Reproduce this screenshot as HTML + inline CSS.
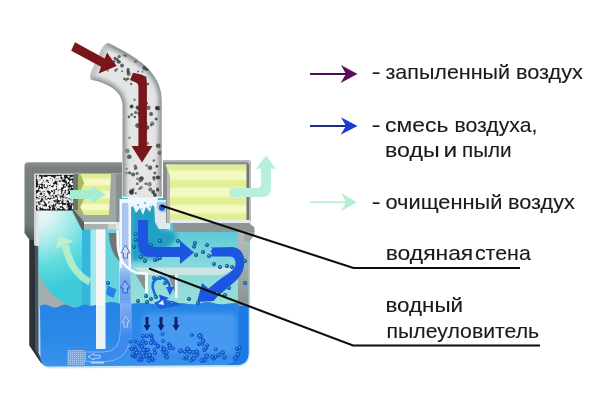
<!DOCTYPE html>
<html><head><meta charset="utf-8">
<style>
html,body{margin:0;padding:0;background:#fff;}
body{width:600px;height:400px;overflow:hidden;position:relative;font-family:"Liberation Sans",sans-serif;}
svg{position:absolute;left:0;top:0;display:block}
text{font-family:"Liberation Sans",sans-serif;font-size:20px;fill:#1a1a1a}
</style></head><body>
<svg width="600" height="400" viewBox="0 0 600 400">
<defs>
<linearGradient id="pipeV" x1="0" x2="1" y1="0" y2="0">
 <stop offset="0" stop-color="#a9aeae"/><stop offset="0.18" stop-color="#d2d5d5"/><stop offset="0.5" stop-color="#e9ebeb"/><stop offset="0.82" stop-color="#d2d5d5"/><stop offset="1" stop-color="#a4a9a9"/>
</linearGradient>
<radialGradient id="chamL" gradientUnits="userSpaceOnUse" cx="36" cy="208" r="82">
 <stop offset="0" stop-color="#eef8f8"/><stop offset="0.220" stop-color="#dcf4f2"/><stop offset="0.420" stop-color="#aaecea"/><stop offset="0.700" stop-color="#60dcde"/><stop offset="1" stop-color="#3ccbdc"/>
</radialGradient>
<linearGradient id="tubeG" x1="0" x2="0" y1="0" y2="1"><stop offset="0" stop-color="#86aef2"/><stop offset="1" stop-color="#3c8aec"/></linearGradient>
<linearGradient id="wallG" x1="0" x2="0" y1="0" y2="1"><stop offset="0" stop-color="#b4bcbc"/><stop offset="0.500" stop-color="#a2aaaa"/><stop offset="1" stop-color="#8a9292"/></linearGradient>
<linearGradient id="tubeG2" x1="0" x2="0" y1="0" y2="1"><stop offset="0" stop-color="#a4c2f2"/><stop offset="0.300" stop-color="#7ca8f0"/><stop offset="1" stop-color="#6a9cf0"/></linearGradient>
<linearGradient id="frameG" x1="0" x2="0" y1="0" y2="1">
 <stop offset="0" stop-color="#8c9292"/><stop offset="0.080" stop-color="#7a8080"/><stop offset="0.800" stop-color="#727a7c"/><stop offset="1" stop-color="#4a5258"/>
</linearGradient>
<linearGradient id="chamC" x1="0" x2="0" y1="0" y2="1">
 <stop offset="0" stop-color="#3cbcd2"/><stop offset="0.300" stop-color="#5ccad8"/><stop offset="0.600" stop-color="#86d8dc"/><stop offset="1" stop-color="#9adfd8"/>
</linearGradient>
<linearGradient id="water" x1="0" x2="0" y1="0" y2="1">
 <stop offset="0" stop-color="#2583e6"/><stop offset="0.6" stop-color="#2d8ae8"/><stop offset="1" stop-color="#3a92ec"/>
</linearGradient>
<linearGradient id="yel" x1="0" x2="0" y1="0" y2="1">
<stop offset="0" stop-color="#e0ee94"/><stop offset="0.08" stop-color="#e0ee94"/><stop offset="0.13" stop-color="#f4f9c2"/><stop offset="0.25" stop-color="#f4f9c2"/><stop offset="0.31" stop-color="#e0ee94"/><stop offset="0.39" stop-color="#e0ee94"/><stop offset="0.44" stop-color="#f4f9c2"/><stop offset="0.56" stop-color="#f4f9c2"/><stop offset="0.62" stop-color="#e0ee94"/><stop offset="0.7" stop-color="#e0ee94"/><stop offset="0.75" stop-color="#f4f9c2"/><stop offset="0.86" stop-color="#f4f9c2"/><stop offset="0.91" stop-color="#e0ee94"/><stop offset="1" stop-color="#e0ee94"/>
</linearGradient>
<filter id="soft2" x="-10%" y="-10%" width="120%" height="120%"><feGaussianBlur stdDeviation="2"/></filter>
<filter id="soft3" x="-5%" y="-20%" width="110%" height="140%"><feGaussianBlur stdDeviation="0.35"/></filter>
<filter id="soft4" x="-5%" y="-5%" width="110%" height="110%"><feGaussianBlur stdDeviation="0.5"/></filter>
<pattern id="grid" width="2" height="2" patternUnits="userSpaceOnUse"><rect width="1" height="1" fill="#a8ccf6"/></pattern>
<filter id="soft" x="-5%" y="-5%" width="110%" height="110%"><feGaussianBlur stdDeviation="0.45"/></filter>
</defs>
<rect width="600" height="400" fill="#ffffff"/>
<g filter="url(#soft)">

<!-- lower container outer -->
<path d="M38,240 L38,352 Q40,368 50,368.500 L237,367 Q250,366 250,353 L250,231 L38,231 Z" fill="#cfe6f6"/>
<path d="M29.500,240 L40.500,240 L40.500,354 L44,362 L42,364.500 L29.500,346 Z" fill="#b4d6f2"/>
<path d="M29.500,240 L38.500,240 L38.500,353 L42.500,361.500 L41.500,363.500 L29.500,345.500 Z" fill="#4a545c"/>
<path d="M29.500,240 L35,240 L35,349 L41,361 L41.500,363.500 L29.500,345.500 Z" fill="#2a3138"/>

<!-- upper housing left -->
<path d="M24.500,166 Q24.500,162.300 28.500,162.300 L122,162.300 L122,240 L29.500,240 L24.500,233 Z" fill="url(#frameG)"/>
<rect x="34" y="173.500" width="88" height="72" fill="#cdd3d3"/>
<!-- left chamber bg -->
<rect x="38.500" y="210" width="58" height="98" fill="url(#chamL)"/>
<rect x="82" y="224" width="9" height="84" fill="#34b6dc" filter="url(#soft4)"/>
<rect x="90.500" y="229" width="6" height="79" fill="#a6e6ee"/>
<rect x="36" y="210" width="3" height="36" fill="#dfe5e5"/>
<!-- grey arc bottom-left in chamber -->
<path d="M38.500,274 L40.500,276 A50,50 0 0 0 74,306.500 L74,308 L38.500,308 Z" fill="#a4aeae"/>
<!-- speckle filter -->
<rect x="36" y="175" width="38" height="35.500" fill="#1b1b1b"/>
<circle cx="45.8" cy="190.8" r="1.2" fill="#ffffff" /><circle cx="56.7" cy="205.3" r="1.0" fill="#f0f0f0" /><circle cx="72.4" cy="187.3" r="0.8" fill="#ffffff" /><circle cx="72.6" cy="208.4" r="0.8" fill="#ffffff" /><circle cx="39.5" cy="200.4" r="1.0" fill="#ffffff" /><circle cx="42.9" cy="178.8" r="1.2" fill="#d8d8d8" /><circle cx="58.6" cy="198.9" r="0.6" fill="#ffffff" /><circle cx="43.7" cy="184.9" r="0.6" fill="#d8d8d8" /><circle cx="50.1" cy="186.9" r="1.0" fill="#f0f0f0" /><circle cx="38.2" cy="205.1" r="0.8" fill="#d8d8d8" /><circle cx="43.6" cy="187.1" r="0.6" fill="#ffffff" /><circle cx="47.0" cy="197.6" r="0.8" fill="#ffffff" /><circle cx="40.3" cy="203.0" r="0.8" fill="#ffffff" /><circle cx="58.1" cy="189.0" r="1.0" fill="#d8d8d8" /><circle cx="59.7" cy="178.8" r="0.8" fill="#ffffff" /><circle cx="64.5" cy="199.8" r="1.2" fill="#f0f0f0" /><circle cx="47.2" cy="196.4" r="0.8" fill="#ffffff" /><circle cx="66.7" cy="199.6" r="1.2" fill="#f0f0f0" /><circle cx="69.8" cy="200.8" r="0.6" fill="#f0f0f0" /><circle cx="40.1" cy="177.4" r="1.0" fill="#ffffff" /><circle cx="50.6" cy="190.9" r="0.6" fill="#ffffff" /><circle cx="59.5" cy="198.5" r="1.2" fill="#d8d8d8" /><circle cx="37.1" cy="202.3" r="0.6" fill="#ffffff" /><circle cx="63.8" cy="191.6" r="0.6" fill="#d8d8d8" /><circle cx="45.5" cy="201.0" r="0.8" fill="#ffffff" /><circle cx="54.8" cy="188.6" r="1.2" fill="#d8d8d8" /><circle cx="64.6" cy="196.4" r="0.8" fill="#ffffff" /><circle cx="58.6" cy="186.9" r="1.0" fill="#f0f0f0" /><circle cx="37.4" cy="178.0" r="1.0" fill="#ffffff" /><circle cx="61.9" cy="198.3" r="1.0" fill="#d8d8d8" /><circle cx="53.7" cy="191.4" r="0.6" fill="#f0f0f0" /><circle cx="48.2" cy="178.8" r="1.2" fill="#ffffff" /><circle cx="47.4" cy="178.5" r="1.2" fill="#d8d8d8" /><circle cx="50.9" cy="206.2" r="0.8" fill="#ffffff" /><circle cx="57.9" cy="180.7" r="1.0" fill="#d8d8d8" /><circle cx="41.8" cy="203.1" r="1.0" fill="#ffffff" /><circle cx="62.3" cy="183.6" r="1.2" fill="#ffffff" /><circle cx="37.9" cy="176.1" r="1.2" fill="#ffffff" /><circle cx="51.6" cy="200.0" r="1.2" fill="#d8d8d8" /><circle cx="50.5" cy="180.0" r="1.0" fill="#ffffff" /><circle cx="48.7" cy="187.2" r="1.2" fill="#ffffff" /><circle cx="70.8" cy="182.5" r="0.6" fill="#d8d8d8" /><circle cx="46.1" cy="178.1" r="1.2" fill="#ffffff" /><circle cx="50.0" cy="190.1" r="1.0" fill="#ffffff" /><circle cx="47.1" cy="177.7" r="1.0" fill="#f0f0f0" /><circle cx="46.0" cy="184.8" r="1.0" fill="#f0f0f0" /><circle cx="64.8" cy="201.9" r="1.2" fill="#ffffff" /><circle cx="66.2" cy="196.8" r="0.8" fill="#ffffff" /><circle cx="38.8" cy="200.2" r="1.2" fill="#f0f0f0" /><circle cx="60.2" cy="185.4" r="0.6" fill="#f0f0f0" /><circle cx="43.1" cy="189.7" r="1.0" fill="#d8d8d8" /><circle cx="46.2" cy="200.4" r="1.0" fill="#ffffff" /><circle cx="60.6" cy="185.9" r="1.2" fill="#ffffff" /><circle cx="43.0" cy="181.3" r="0.8" fill="#ffffff" /><circle cx="56.8" cy="190.9" r="1.0" fill="#ffffff" /><circle cx="52.4" cy="194.1" r="0.8" fill="#ffffff" /><circle cx="43.3" cy="194.3" r="1.0" fill="#f0f0f0" /><circle cx="50.3" cy="202.7" r="0.8" fill="#ffffff" /><circle cx="64.0" cy="189.6" r="1.2" fill="#f0f0f0" /><circle cx="50.6" cy="187.2" r="0.6" fill="#ffffff" /><circle cx="47.0" cy="207.9" r="0.8" fill="#f0f0f0" /><circle cx="40.3" cy="205.6" r="1.2" fill="#ffffff" /><circle cx="60.2" cy="190.3" r="1.0" fill="#ffffff" /><circle cx="41.6" cy="190.0" r="1.2" fill="#ffffff" /><circle cx="37.0" cy="188.9" r="1.2" fill="#ffffff" /><circle cx="45.9" cy="179.6" r="0.8" fill="#f0f0f0" /><circle cx="55.8" cy="198.5" r="1.2" fill="#ffffff" /><circle cx="56.9" cy="177.3" r="0.8" fill="#f0f0f0" /><circle cx="57.5" cy="177.2" r="1.0" fill="#f0f0f0" /><circle cx="59.6" cy="193.4" r="1.2" fill="#ffffff" /><circle cx="40.6" cy="185.9" r="0.8" fill="#ffffff" /><circle cx="46.4" cy="202.1" r="0.6" fill="#ffffff" /><circle cx="56.3" cy="208.9" r="1.0" fill="#d8d8d8" /><circle cx="60.2" cy="205.2" r="1.2" fill="#f0f0f0" /><circle cx="56.7" cy="177.0" r="1.2" fill="#d8d8d8" /><circle cx="39.0" cy="182.4" r="1.2" fill="#ffffff" /><circle cx="46.3" cy="198.0" r="1.0" fill="#f0f0f0" /><circle cx="54.7" cy="199.0" r="1.2" fill="#d8d8d8" /><circle cx="61.6" cy="182.5" r="1.0" fill="#ffffff" /><circle cx="44.4" cy="208.0" r="1.0" fill="#f0f0f0" /><circle cx="45.3" cy="183.3" r="1.0" fill="#ffffff" /><circle cx="71.3" cy="192.4" r="0.8" fill="#f0f0f0" /><circle cx="54.5" cy="206.0" r="0.6" fill="#f0f0f0" /><circle cx="70.2" cy="177.8" r="0.6" fill="#f0f0f0" /><circle cx="52.0" cy="199.4" r="0.8" fill="#ffffff" /><circle cx="53.2" cy="199.5" r="1.0" fill="#ffffff" /><circle cx="72.9" cy="206.7" r="1.0" fill="#f0f0f0" /><circle cx="43.7" cy="206.9" r="1.2" fill="#ffffff" /><circle cx="48.2" cy="199.9" r="1.0" fill="#d8d8d8" /><circle cx="52.9" cy="179.6" r="0.6" fill="#d8d8d8" /><circle cx="39.9" cy="189.9" r="0.6" fill="#f0f0f0" /><circle cx="50.7" cy="201.4" r="1.0" fill="#ffffff" /><circle cx="40.2" cy="199.3" r="0.8" fill="#d8d8d8" /><circle cx="56.5" cy="190.7" r="1.0" fill="#d8d8d8" /><circle cx="63.5" cy="191.7" r="1.2" fill="#f0f0f0" /><circle cx="66.2" cy="201.3" r="0.6" fill="#ffffff" /><circle cx="38.3" cy="178.1" r="0.6" fill="#d8d8d8" /><circle cx="44.0" cy="178.1" r="1.0" fill="#d8d8d8" /><circle cx="46.8" cy="207.6" r="0.6" fill="#d8d8d8" /><circle cx="63.9" cy="198.8" r="1.0" fill="#d8d8d8" /><circle cx="37.1" cy="200.9" r="0.6" fill="#ffffff" /><circle cx="66.7" cy="179.5" r="1.2" fill="#ffffff" /><circle cx="65.4" cy="206.1" r="1.2" fill="#f0f0f0" /><circle cx="70.4" cy="182.0" r="1.0" fill="#f0f0f0" /><circle cx="58.9" cy="186.8" r="1.0" fill="#ffffff" /><circle cx="50.0" cy="201.8" r="0.6" fill="#f0f0f0" /><circle cx="51.1" cy="181.3" r="1.2" fill="#ffffff" /><circle cx="60.4" cy="191.9" r="1.0" fill="#f0f0f0" /><circle cx="72.3" cy="205.2" r="0.6" fill="#d8d8d8" /><circle cx="59.5" cy="182.9" r="1.2" fill="#ffffff" /><circle cx="72.6" cy="208.1" r="0.8" fill="#f0f0f0" /><circle cx="41.8" cy="191.2" r="0.8" fill="#ffffff" /><circle cx="65.1" cy="185.7" r="1.0" fill="#d8d8d8" /><circle cx="50.4" cy="200.4" r="0.8" fill="#ffffff" /><circle cx="45.9" cy="184.1" r="0.8" fill="#d8d8d8" /><circle cx="68.8" cy="195.1" r="1.0" fill="#ffffff" /><circle cx="51.3" cy="208.8" r="0.8" fill="#ffffff" /><circle cx="60.5" cy="208.7" r="0.6" fill="#ffffff" /><circle cx="54.1" cy="203.0" r="1.2" fill="#d8d8d8" /><circle cx="38.5" cy="185.7" r="0.6" fill="#ffffff" /><circle cx="43.8" cy="208.1" r="0.8" fill="#ffffff" /><circle cx="50.4" cy="204.6" r="1.2" fill="#d8d8d8" /><circle cx="64.9" cy="197.9" r="0.6" fill="#ffffff" /><circle cx="59.9" cy="199.4" r="1.0" fill="#f0f0f0" /><circle cx="38.3" cy="187.2" r="0.6" fill="#f0f0f0" /><circle cx="73.0" cy="177.3" r="0.8" fill="#ffffff" /><circle cx="66.5" cy="189.5" r="1.0" fill="#f0f0f0" /><circle cx="59.4" cy="178.6" r="0.6" fill="#ffffff" /><circle cx="56.7" cy="178.1" r="0.6" fill="#ffffff" /><circle cx="60.9" cy="181.1" r="0.6" fill="#f0f0f0" /><circle cx="51.3" cy="184.9" r="1.0" fill="#d8d8d8" /><circle cx="52.0" cy="177.7" r="1.0" fill="#ffffff" /><circle cx="52.0" cy="204.5" r="1.0" fill="#f0f0f0" /><circle cx="51.1" cy="189.4" r="0.6" fill="#ffffff" /><circle cx="69.5" cy="190.0" r="0.6" fill="#ffffff" /><circle cx="57.8" cy="188.0" r="0.8" fill="#f0f0f0" /><circle cx="37.5" cy="194.2" r="1.2" fill="#ffffff" /><circle cx="57.6" cy="206.6" r="0.8" fill="#f0f0f0" /><circle cx="49.5" cy="181.3" r="0.8" fill="#ffffff" /><circle cx="40.9" cy="192.2" r="0.8" fill="#d8d8d8" /><circle cx="41.6" cy="207.1" r="1.2" fill="#d8d8d8" /><circle cx="38.9" cy="206.6" r="1.2" fill="#ffffff" /><circle cx="69.6" cy="196.5" r="0.8" fill="#f0f0f0" /><circle cx="59.4" cy="196.3" r="0.8" fill="#ffffff" /><circle cx="43.6" cy="183.2" r="1.2" fill="#f0f0f0" /><circle cx="50.8" cy="180.1" r="0.8" fill="#f0f0f0" /><circle cx="38.5" cy="194.6" r="0.6" fill="#d8d8d8" /><circle cx="41.2" cy="195.8" r="1.0" fill="#ffffff" /><circle cx="48.1" cy="184.2" r="1.2" fill="#d8d8d8" /><circle cx="53.1" cy="190.5" r="0.6" fill="#ffffff" /><circle cx="59.3" cy="192.2" r="0.8" fill="#ffffff" /><circle cx="64.5" cy="201.7" r="1.2" fill="#f0f0f0" /><circle cx="66.2" cy="189.2" r="0.6" fill="#f0f0f0" /><circle cx="49.9" cy="188.1" r="1.2" fill="#ffffff" /><circle cx="38.5" cy="180.3" r="1.0" fill="#ffffff" /><circle cx="39.0" cy="192.6" r="1.2" fill="#f0f0f0" /><circle cx="37.9" cy="178.2" r="0.6" fill="#f0f0f0" /><circle cx="41.7" cy="205.2" r="1.0" fill="#f0f0f0" /><circle cx="61.7" cy="199.8" r="0.8" fill="#ffffff" /><circle cx="67.0" cy="196.1" r="1.0" fill="#f0f0f0" /><circle cx="48.7" cy="196.2" r="1.2" fill="#f0f0f0" /><circle cx="46.1" cy="207.8" r="1.2" fill="#f0f0f0" /><circle cx="58.3" cy="196.3" r="0.8" fill="#d8d8d8" /><circle cx="50.4" cy="182.6" r="1.2" fill="#f0f0f0" /><circle cx="59.9" cy="185.2" r="1.0" fill="#ffffff" /><circle cx="43.1" cy="201.9" r="0.6" fill="#ffffff" /><circle cx="59.9" cy="187.9" r="1.2" fill="#ffffff" /><circle cx="46.1" cy="193.7" r="1.2" fill="#d8d8d8" /><circle cx="46.5" cy="208.7" r="0.8" fill="#d8d8d8" /><circle cx="48.9" cy="178.7" r="0.8" fill="#f0f0f0" /><circle cx="59.2" cy="207.6" r="1.0" fill="#d8d8d8" /><circle cx="48.2" cy="207.9" r="1.0" fill="#ffffff" /><circle cx="63.9" cy="183.3" r="1.0" fill="#ffffff" /><circle cx="52.0" cy="188.0" r="0.6" fill="#f0f0f0" /><circle cx="54.6" cy="196.2" r="0.6" fill="#ffffff" /><circle cx="39.0" cy="194.7" r="1.0" fill="#ffffff" /><circle cx="55.8" cy="193.6" r="1.2" fill="#d8d8d8" /><circle cx="58.2" cy="182.7" r="1.2" fill="#f0f0f0" /><circle cx="41.9" cy="206.9" r="0.8" fill="#f0f0f0" /><circle cx="53.2" cy="178.1" r="0.8" fill="#d8d8d8" /><circle cx="51.5" cy="184.7" r="0.6" fill="#ffffff" /><circle cx="60.2" cy="194.6" r="1.0" fill="#ffffff" /><circle cx="58.7" cy="193.1" r="1.2" fill="#f0f0f0" /><circle cx="42.9" cy="176.0" r="0.6" fill="#ffffff" /><circle cx="51.6" cy="183.8" r="0.6" fill="#ffffff" /><circle cx="37.4" cy="194.2" r="0.8" fill="#f0f0f0" /><circle cx="51.9" cy="193.1" r="1.2" fill="#f0f0f0" /><circle cx="55.3" cy="178.1" r="0.6" fill="#ffffff" /><circle cx="62.8" cy="176.2" r="1.2" fill="#ffffff" /><circle cx="39.9" cy="197.6" r="0.8" fill="#f0f0f0" /><circle cx="72.9" cy="184.6" r="0.6" fill="#ffffff" /><circle cx="49.1" cy="200.7" r="1.0" fill="#ffffff" /><circle cx="46.6" cy="194.3" r="1.2" fill="#d8d8d8" /><circle cx="47.6" cy="206.6" r="0.8" fill="#ffffff" /><circle cx="68.7" cy="176.5" r="1.0" fill="#f0f0f0" /><circle cx="67.3" cy="182.7" r="0.8" fill="#d8d8d8" /><circle cx="43.9" cy="188.8" r="0.8" fill="#ffffff" /><circle cx="69.7" cy="196.8" r="1.2" fill="#ffffff" /><circle cx="67.2" cy="199.0" r="0.6" fill="#ffffff" /><circle cx="71.4" cy="183.7" r="1.0" fill="#f0f0f0" /><circle cx="51.1" cy="195.3" r="0.8" fill="#f0f0f0" /><circle cx="38.2" cy="179.7" r="0.8" fill="#d8d8d8" /><circle cx="72.2" cy="199.1" r="0.6" fill="#ffffff" /><circle cx="42.0" cy="197.2" r="0.6" fill="#ffffff" /><circle cx="63.5" cy="178.2" r="1.0" fill="#f0f0f0" /><circle cx="66.4" cy="203.0" r="0.6" fill="#ffffff" /><circle cx="40.9" cy="182.8" r="0.6" fill="#ffffff" /><circle cx="38.2" cy="204.0" r="0.6" fill="#d8d8d8" /><circle cx="54.2" cy="180.4" r="0.8" fill="#d8d8d8" /><circle cx="48.5" cy="190.0" r="0.6" fill="#d8d8d8" /><circle cx="46.2" cy="185.3" r="1.0" fill="#d8d8d8" /><circle cx="64.7" cy="195.9" r="1.2" fill="#d8d8d8" /><circle cx="59.3" cy="177.0" r="1.2" fill="#ffffff" /><circle cx="52.7" cy="201.5" r="1.0" fill="#ffffff" /><circle cx="62.4" cy="193.8" r="0.8" fill="#ffffff" /><circle cx="57.7" cy="185.5" r="1.2" fill="#ffffff" /><circle cx="55.8" cy="185.5" r="0.6" fill="#ffffff" /><circle cx="49.5" cy="179.2" r="0.8" fill="#ffffff" /><circle cx="58.3" cy="207.6" r="1.0" fill="#f0f0f0" /><circle cx="47.2" cy="183.1" r="0.8" fill="#ffffff" /><circle cx="43.0" cy="207.0" r="0.6" fill="#ffffff" /><circle cx="65.4" cy="199.0" r="0.6" fill="#d8d8d8" /><circle cx="49.8" cy="189.2" r="1.2" fill="#ffffff" /><circle cx="52.2" cy="197.3" r="1.0" fill="#f0f0f0" /><circle cx="47.9" cy="190.1" r="0.8" fill="#ffffff" /><circle cx="72.4" cy="196.8" r="1.2" fill="#f0f0f0" /><circle cx="56.1" cy="200.9" r="0.6" fill="#d8d8d8" /><circle cx="57.9" cy="193.2" r="1.2" fill="#d8d8d8" /><circle cx="43.1" cy="190.5" r="1.0" fill="#f0f0f0" /><circle cx="41.5" cy="191.2" r="0.8" fill="#f0f0f0" /><circle cx="46.6" cy="200.9" r="0.8" fill="#f0f0f0" /><circle cx="72.1" cy="199.9" r="1.0" fill="#f0f0f0" /><circle cx="45.5" cy="207.5" r="1.0" fill="#ffffff" /><circle cx="42.9" cy="197.7" r="0.8" fill="#ffffff" /><circle cx="42.4" cy="180.9" r="1.0" fill="#d8d8d8" /><circle cx="52.7" cy="182.5" r="0.6" fill="#d8d8d8" /><circle cx="44.4" cy="188.8" r="0.6" fill="#ffffff" /><circle cx="51.4" cy="202.1" r="0.8" fill="#d8d8d8" /><circle cx="53.7" cy="180.7" r="1.2" fill="#ffffff" /><circle cx="63.7" cy="206.0" r="1.2" fill="#ffffff" /><circle cx="67.5" cy="198.0" r="0.8" fill="#f0f0f0" /><circle cx="60.1" cy="191.0" r="1.0" fill="#d8d8d8" /><circle cx="59.6" cy="179.2" r="1.2" fill="#f0f0f0" /><circle cx="65.2" cy="199.5" r="0.8" fill="#d8d8d8" /><circle cx="67.6" cy="191.9" r="0.6" fill="#ffffff" /><circle cx="55.7" cy="197.8" r="0.8" fill="#d8d8d8" /><circle cx="65.0" cy="188.8" r="1.2" fill="#ffffff" /><circle cx="38.4" cy="193.9" r="0.8" fill="#f0f0f0" /><circle cx="55.7" cy="179.3" r="1.2" fill="#f0f0f0" /><circle cx="62.8" cy="192.9" r="1.0" fill="#d8d8d8" /><circle cx="51.8" cy="207.3" r="0.8" fill="#f0f0f0" /><circle cx="51.1" cy="201.2" r="0.6" fill="#d8d8d8" /><circle cx="60.0" cy="184.3" r="1.2" fill="#ffffff" /><circle cx="39.2" cy="178.5" r="1.2" fill="#d8d8d8" /><circle cx="57.9" cy="179.6" r="1.0" fill="#ffffff" /><circle cx="70.8" cy="193.4" r="0.8" fill="#ffffff" /><circle cx="53.6" cy="181.4" r="0.6" fill="#f0f0f0" /><circle cx="53.9" cy="194.5" r="0.8" fill="#f0f0f0" /><circle cx="49.7" cy="197.1" r="1.2" fill="#ffffff" /><circle cx="72.9" cy="201.1" r="0.8" fill="#ffffff" /><circle cx="49.8" cy="204.1" r="1.0" fill="#ffffff" /><circle cx="61.7" cy="208.4" r="0.8" fill="#ffffff" /><circle cx="37.1" cy="199.8" r="1.0" fill="#d8d8d8" /><circle cx="45.8" cy="186.0" r="1.2" fill="#ffffff" /><circle cx="52.4" cy="197.0" r="1.0" fill="#f0f0f0" /><circle cx="70.4" cy="204.2" r="0.6" fill="#ffffff" /><circle cx="66.8" cy="205.9" r="0.8" fill="#d8d8d8" /><circle cx="59.8" cy="176.5" r="0.6" fill="#f0f0f0" /><circle cx="71.3" cy="197.6" r="1.0" fill="#ffffff" /><circle cx="57.8" cy="204.2" r="0.8" fill="#ffffff" /><circle cx="49.5" cy="181.0" r="1.2" fill="#f0f0f0" /><circle cx="58.9" cy="198.7" r="0.6" fill="#d8d8d8" /><circle cx="44.1" cy="198.9" r="0.6" fill="#ffffff" /><circle cx="61.2" cy="179.9" r="0.6" fill="#d8d8d8" /><circle cx="52.1" cy="203.3" r="1.2" fill="#ffffff" /><circle cx="57.1" cy="192.0" r="0.8" fill="#ffffff" /><circle cx="45.9" cy="181.4" r="0.6" fill="#f0f0f0" /><circle cx="67.3" cy="191.4" r="1.2" fill="#d8d8d8" /><circle cx="67.3" cy="188.4" r="1.2" fill="#ffffff" /><circle cx="43.5" cy="187.9" r="0.6" fill="#ffffff" /><circle cx="58.9" cy="198.5" r="1.0" fill="#ffffff" /><circle cx="55.4" cy="192.0" r="0.8" fill="#ffffff" /><circle cx="44.7" cy="189.7" r="0.8" fill="#d8d8d8" /><circle cx="40.4" cy="197.7" r="1.0" fill="#ffffff" /><circle cx="65.0" cy="194.3" r="0.8" fill="#d8d8d8" /><circle cx="52.7" cy="189.9" r="0.6" fill="#d8d8d8" /><circle cx="47.5" cy="203.3" r="1.2" fill="#d8d8d8" /><circle cx="55.1" cy="185.0" r="1.0" fill="#f0f0f0" /><circle cx="60.6" cy="202.1" r="1.0" fill="#f0f0f0" /><circle cx="48.4" cy="185.9" r="0.6" fill="#ffffff" /><circle cx="51.4" cy="194.3" r="1.2" fill="#ffffff" /><circle cx="51.3" cy="179.6" r="0.6" fill="#f0f0f0" /><circle cx="66.6" cy="191.7" r="0.6" fill="#ffffff" /><circle cx="59.2" cy="196.7" r="0.6" fill="#f0f0f0" /><circle cx="38.4" cy="196.9" r="0.8" fill="#ffffff" /><circle cx="60.9" cy="204.7" r="1.2" fill="#ffffff" /><circle cx="69.9" cy="197.6" r="1.0" fill="#f0f0f0" /><circle cx="65.3" cy="194.5" r="1.0" fill="#d8d8d8" /><circle cx="43.7" cy="177.1" r="0.6" fill="#ffffff" /><circle cx="57.4" cy="195.1" r="0.6" fill="#ffffff" /><circle cx="57.4" cy="177.3" r="0.6" fill="#ffffff" /><circle cx="57.7" cy="206.3" r="1.2" fill="#ffffff" /><circle cx="37.5" cy="188.8" r="0.8" fill="#ffffff" /><circle cx="64.7" cy="194.1" r="0.6" fill="#ffffff" /><circle cx="44.6" cy="181.0" r="0.6" fill="#ffffff" /><circle cx="37.2" cy="198.6" r="0.6" fill="#ffffff" /><circle cx="44.9" cy="180.0" r="1.2" fill="#ffffff" /><circle cx="46.9" cy="194.8" r="1.2" fill="#f0f0f0" /><circle cx="70.2" cy="188.1" r="0.8" fill="#ffffff" /><circle cx="47.6" cy="194.4" r="1.2" fill="#ffffff" /><circle cx="61.1" cy="205.4" r="0.6" fill="#ffffff" /><circle cx="37.4" cy="176.5" r="0.6" fill="#ffffff" /><circle cx="48.2" cy="200.1" r="0.8" fill="#ffffff" /><circle cx="58.9" cy="186.4" r="1.2" fill="#ffffff" /><circle cx="61.4" cy="180.8" r="0.6" fill="#d8d8d8" /><circle cx="71.3" cy="181.4" r="1.2" fill="#ffffff" /><circle cx="50.9" cy="201.9" r="1.0" fill="#d8d8d8" /><circle cx="47.5" cy="178.0" r="1.0" fill="#ffffff" /><circle cx="66.9" cy="195.8" r="1.0" fill="#ffffff" /><circle cx="72.1" cy="184.1" r="1.2" fill="#ffffff" /><circle cx="58.7" cy="205.6" r="1.2" fill="#d8d8d8" /><circle cx="61.8" cy="186.6" r="1.0" fill="#ffffff" /><circle cx="42.7" cy="206.4" r="0.6" fill="#d8d8d8" /><circle cx="67.0" cy="202.8" r="0.8" fill="#d8d8d8" /><circle cx="72.1" cy="202.3" r="1.2" fill="#d8d8d8" /><circle cx="56.2" cy="193.8" r="1.2" fill="#ffffff" /><circle cx="44.2" cy="200.8" r="0.8" fill="#d8d8d8" /><circle cx="58.8" cy="198.4" r="1.2" fill="#f0f0f0" /><circle cx="70.3" cy="195.4" r="0.6" fill="#ffffff" /><circle cx="53.5" cy="178.9" r="1.0" fill="#ffffff" /><circle cx="45.4" cy="195.1" r="1.0" fill="#d8d8d8" /><circle cx="54.2" cy="195.4" r="0.8" fill="#f0f0f0" /><circle cx="43.9" cy="182.0" r="1.0" fill="#d8d8d8" /><circle cx="57.8" cy="187.8" r="0.8" fill="#f0f0f0" /><circle cx="38.6" cy="208.9" r="1.0" fill="#ffffff" /><circle cx="50.4" cy="191.3" r="0.6" fill="#f0f0f0" /><circle cx="48.4" cy="177.0" r="1.0" fill="#ffffff" /><circle cx="40.4" cy="182.8" r="1.2" fill="#f0f0f0" /><circle cx="46.4" cy="201.7" r="1.2" fill="#ffffff" /><circle cx="71.1" cy="201.3" r="0.8" fill="#d8d8d8" /><circle cx="67.4" cy="187.2" r="0.8" fill="#ffffff" /><circle cx="40.0" cy="177.7" r="1.0" fill="#ffffff" /><circle cx="54.5" cy="203.9" r="0.6" fill="#ffffff" /><circle cx="70.2" cy="199.3" r="0.6" fill="#d8d8d8" /><circle cx="48.5" cy="183.7" r="0.6" fill="#ffffff" /><circle cx="43.6" cy="204.0" r="1.0" fill="#f0f0f0" /><circle cx="72.7" cy="183.3" r="0.6" fill="#d8d8d8" /><circle cx="70.9" cy="178.0" r="0.6" fill="#ffffff" /><circle cx="46.3" cy="192.9" r="1.2" fill="#ffffff" /><circle cx="40.6" cy="186.5" r="0.6" fill="#f0f0f0" /><circle cx="61.4" cy="185.9" r="1.2" fill="#ffffff" /><circle cx="53.9" cy="188.3" r="1.2" fill="#ffffff" /><circle cx="50.5" cy="188.5" r="1.2" fill="#f0f0f0" /><circle cx="66.1" cy="206.2" r="0.6" fill="#ffffff" /><circle cx="62.8" cy="182.4" r="0.6" fill="#f0f0f0" /><circle cx="70.4" cy="183.3" r="1.0" fill="#f0f0f0" /><circle cx="65.0" cy="207.6" r="1.2" fill="#ffffff" /><circle cx="59.6" cy="190.9" r="1.0" fill="#d8d8d8" /><circle cx="66.6" cy="191.8" r="1.0" fill="#f0f0f0" /><circle cx="49.0" cy="200.3" r="0.8" fill="#ffffff" /><circle cx="56.9" cy="180.8" r="0.8" fill="#d8d8d8" /><circle cx="52.1" cy="184.1" r="0.6" fill="#d8d8d8" /><circle cx="57.6" cy="185.8" r="0.8" fill="#d8d8d8" /><circle cx="54.7" cy="186.5" r="1.2" fill="#ffffff" /><circle cx="42.5" cy="192.9" r="0.8" fill="#ffffff" /><circle cx="67.1" cy="179.9" r="0.8" fill="#d8d8d8" /><circle cx="52.6" cy="184.6" r="0.8" fill="#f0f0f0" /><circle cx="40.5" cy="185.6" r="0.8" fill="#ffffff" /><circle cx="67.0" cy="208.3" r="0.8" fill="#ffffff" /><circle cx="52.9" cy="192.8" r="0.8" fill="#ffffff" /><circle cx="37.1" cy="203.5" r="1.0" fill="#f0f0f0" /><circle cx="50.0" cy="177.3" r="1.2" fill="#f0f0f0" /><circle cx="47.0" cy="182.0" r="0.8" fill="#f0f0f0" /><circle cx="62.6" cy="182.5" r="0.6" fill="#ffffff" /><circle cx="69.0" cy="200.1" r="1.0" fill="#f0f0f0" /><circle cx="44.4" cy="196.2" r="0.8" fill="#d8d8d8" /><circle cx="44.3" cy="178.2" r="1.2" fill="#ffffff" /><circle cx="55.7" cy="187.5" r="1.0" fill="#ffffff" /><circle cx="40.3" cy="189.5" r="1.2" fill="#f0f0f0" /><circle cx="68.4" cy="184.8" r="0.8" fill="#d8d8d8" /><circle cx="38.3" cy="199.2" r="0.6" fill="#d8d8d8" /><circle cx="55.7" cy="190.7" r="0.6" fill="#ffffff" /><circle cx="49.8" cy="184.1" r="1.0" fill="#ffffff" /><circle cx="57.7" cy="205.6" r="1.0" fill="#ffffff" /><circle cx="71.3" cy="192.3" r="0.6" fill="#f0f0f0" /><circle cx="37.7" cy="207.9" r="0.8" fill="#f0f0f0" /><circle cx="43.0" cy="186.3" r="0.6" fill="#ffffff" /><circle cx="40.5" cy="199.1" r="0.8" fill="#d8d8d8" /><circle cx="37.6" cy="195.8" r="1.2" fill="#f0f0f0" /><circle cx="62.3" cy="179.4" r="0.6" fill="#f0f0f0" /><circle cx="38.6" cy="180.1" r="1.2" fill="#d8d8d8" /><circle cx="41.0" cy="180.0" r="0.8" fill="#f0f0f0" /><circle cx="68.0" cy="180.9" r="1.2" fill="#ffffff" /><circle cx="42.9" cy="203.3" r="1.2" fill="#ffffff" /><circle cx="58.5" cy="195.9" r="0.6" fill="#ffffff" /><circle cx="71.9" cy="177.7" r="1.0" fill="#d8d8d8" /><circle cx="51.4" cy="203.7" r="1.2" fill="#d8d8d8" /><circle cx="66.3" cy="204.0" r="0.6" fill="#d8d8d8" /><circle cx="55.6" cy="207.6" r="1.0" fill="#f0f0f0" /><circle cx="68.3" cy="197.9" r="0.6" fill="#d8d8d8" /><circle cx="40.9" cy="182.2" r="1.0" fill="#ffffff" /><circle cx="44.2" cy="198.1" r="0.8" fill="#f0f0f0" /><circle cx="52.1" cy="189.1" r="1.2" fill="#ffffff" /><circle cx="66.1" cy="205.2" r="0.6" fill="#ffffff" /><circle cx="68.2" cy="196.5" r="1.0" fill="#ffffff" /><circle cx="59.4" cy="184.3" r="0.6" fill="#ffffff" /><circle cx="45.5" cy="177.3" r="0.6" fill="#d8d8d8" /><circle cx="49.5" cy="181.5" r="0.6" fill="#d8d8d8" /><circle cx="40.0" cy="195.5" r="0.8" fill="#ffffff" /><circle cx="41.5" cy="180.3" r="1.0" fill="#ffffff" /><circle cx="57.8" cy="185.0" r="0.6" fill="#d8d8d8" /><circle cx="67.2" cy="196.1" r="0.8" fill="#ffffff" /><circle cx="44.2" cy="199.4" r="1.2" fill="#d8d8d8" /><circle cx="59.1" cy="191.5" r="1.0" fill="#ffffff" /><circle cx="45.7" cy="183.3" r="1.2" fill="#ffffff" /><circle cx="37.4" cy="187.6" r="0.8" fill="#d8d8d8" /><circle cx="57.0" cy="192.2" r="1.0" fill="#f0f0f0" /><circle cx="47.6" cy="201.5" r="0.8" fill="#ffffff" /><circle cx="58.8" cy="187.5" r="0.6" fill="#ffffff" /><circle cx="67.0" cy="187.7" r="0.6" fill="#f0f0f0" /><circle cx="72.6" cy="198.4" r="0.8" fill="#ffffff" /><circle cx="49.1" cy="187.6" r="0.8" fill="#d8d8d8" /><circle cx="66.6" cy="193.1" r="1.2" fill="#d8d8d8" /><circle cx="65.3" cy="199.4" r="0.8" fill="#ffffff" /><circle cx="68.3" cy="176.1" r="0.6" fill="#ffffff" /><circle cx="51.3" cy="208.8" r="0.8" fill="#ffffff" /><circle cx="67.6" cy="185.2" r="0.6" fill="#ffffff" /><circle cx="67.7" cy="198.9" r="1.0" fill="#d8d8d8" /><circle cx="47.5" cy="188.9" r="1.2" fill="#d8d8d8" /><circle cx="37.2" cy="200.6" r="1.2" fill="#ffffff" /><circle cx="53.0" cy="182.1" r="1.0" fill="#f0f0f0" /><circle cx="52.7" cy="188.4" r="0.8" fill="#ffffff" /><circle cx="66.6" cy="186.9" r="0.8" fill="#d8d8d8" /><circle cx="44.4" cy="190.1" r="0.6" fill="#ffffff" /><circle cx="38.7" cy="194.6" r="1.2" fill="#d8d8d8" /><circle cx="70.1" cy="201.5" r="1.2" fill="#ffffff" /><circle cx="51.0" cy="187.8" r="1.0" fill="#ffffff" /><circle cx="71.1" cy="198.3" r="0.8" fill="#ffffff" /><circle cx="51.7" cy="192.5" r="0.8" fill="#f0f0f0" /><circle cx="71.7" cy="192.1" r="1.2" fill="#d8d8d8" /><circle cx="61.9" cy="200.6" r="0.6" fill="#f0f0f0" /><circle cx="50.1" cy="188.1" r="0.6" fill="#d8d8d8" /><circle cx="55.5" cy="179.6" r="1.0" fill="#d8d8d8" /><circle cx="66.5" cy="208.7" r="1.2" fill="#f0f0f0" /><circle cx="55.9" cy="202.9" r="0.8" fill="#f0f0f0" /><circle cx="51.8" cy="178.0" r="0.6" fill="#d8d8d8" /><circle cx="57.5" cy="196.8" r="0.6" fill="#ffffff" /><circle cx="37.4" cy="176.1" r="0.6" fill="#d8d8d8" /><circle cx="51.3" cy="179.3" r="0.6" fill="#ffffff" /><circle cx="44.1" cy="192.4" r="1.0" fill="#f0f0f0" /><circle cx="57.7" cy="189.6" r="0.6" fill="#f0f0f0" /><circle cx="42.6" cy="201.1" r="0.6" fill="#ffffff" /><circle cx="40.6" cy="181.6" r="1.2" fill="#ffffff" /><circle cx="59.1" cy="202.6" r="0.6" fill="#ffffff" /><circle cx="61.6" cy="195.1" r="0.8" fill="#f0f0f0" /><circle cx="49.7" cy="181.6" r="1.0" fill="#ffffff" /><circle cx="67.9" cy="207.3" r="0.6" fill="#d8d8d8" /><circle cx="43.9" cy="196.6" r="0.6" fill="#ffffff" /><circle cx="44.9" cy="189.1" r="0.6" fill="#ffffff" /><circle cx="39.0" cy="183.9" r="0.8" fill="#ffffff" /><circle cx="42.7" cy="195.4" r="0.8" fill="#d8d8d8" /><circle cx="37.2" cy="204.6" r="1.2" fill="#d8d8d8" /><circle cx="52.1" cy="184.3" r="1.2" fill="#ffffff" /><circle cx="45.7" cy="188.9" r="0.8" fill="#ffffff" /><circle cx="48.1" cy="204.9" r="1.2" fill="#ffffff" /><circle cx="65.5" cy="184.0" r="0.8" fill="#f0f0f0" /><circle cx="49.9" cy="182.2" r="1.0" fill="#ffffff" /><circle cx="57.2" cy="179.8" r="1.2" fill="#d8d8d8" /><circle cx="51.5" cy="178.2" r="0.6" fill="#ffffff" /><circle cx="66.7" cy="187.6" r="0.8" fill="#ffffff" />
<!-- yellow filter left + tray -->
<path d="M73.500,174 L116,174 L116,222 L84,222 L73.500,210 Z" fill="#9ea6a6"/>
<path d="M72.500,211.500 L74,210 L84,222 L84,230 L82,230 Z" fill="#596161"/>
<path d="M80,174 L111,174 L109,215 L84,215 L80,207 L84,199 L80,191 L84,183 Z" fill="url(#yel)"/>
<path d="M80,174 L84,183 L80,191 L84,199 L80,207 L84,215 L78,213 L78,174 Z" fill="#a8b85c"/>
<rect x="73.500" y="174" width="4.500" height="36" fill="#6c7373"/>
<rect x="116" y="174" width="6" height="60" fill="#8a9090"/>
<rect x="116" y="222" width="4" height="12" fill="#dfe6e6"/>
<rect x="84" y="222" width="32" height="2" fill="#eef3f3"/>
<rect x="84" y="224" width="24" height="5.500" fill="#a9b1b1"/>
<rect x="96" y="229.500" width="9.500" height="120" fill="#f4fafa"/>
<rect x="105.500" y="229.500" width="14" height="78" fill="#66d2dc"/>

<!-- central chamber -->
<rect x="120" y="198" width="130" height="110" fill="url(#chamC)"/>
<path d="M131,200 L156,200 L158,228 L176,233 L176,240 L156,258 L131,262 Z" fill="#239fc2" filter="url(#soft2)"/>
<!-- grey crescent & white curve -->
<path d="M108.500,233 L118,233 L118,250 Q119,262 130,270 Q117,262 112,250 Q109,242 108.500,233 Z" fill="#6e7676"/>
<!-- shelf -->
<path d="M133,267.500 L222,267.500 L236,268.500 L222,275 L146,275 Z" fill="#cbe5e2"/>
<!-- dividers -->
<path d="M136,275 L146,275 L146,292 Z" fill="#8a9090"/>
<path d="M168,275 L176,275 L176,296 Z" fill="#8a9090"/>
<rect x="145" y="274" width="3" height="19" fill="#eef8f8"/>
<rect x="175" y="274" width="2.5" height="24" fill="#eef8f8"/>

<!-- blue tube vertical -->
<rect x="119.500" y="199" width="11.500" height="74" fill="#f2f9fd"/>
<rect x="122" y="203" width="6.500" height="70" fill="#a9c6f2"/>
<rect x="120" y="268" width="10.500" height="39" fill="url(#tubeG2)"/>
<path d="M117.600,230 L117.800,245 C118.500,258 124,268 136,272.500 L148,274" fill="none" stroke="#f8fdfd" stroke-width="2.600"/>

<!-- water -->
<path d="M40,306 q5,-3 10,0 t10,0 t10,0 t10,0 t10,0 L96,305 L105.500,305 L105.500,303 q6,-2 12,0 t12,1 t12,-1 t12,1 t12,0 t12,-1 t12,1 t12,-1 t12,0 t12,1 t12,-1 L240,305 L248.500,306 L248.500,353 Q248.500,364.500 237,365 L48,366.500 Q40.500,366 40.500,358 Z" fill="url(#water)"/>
<path d="M239,306 L248.500,306 L248.500,353 Q248.500,364.500 237,365 L225,365 Q238,363 238,350 Z" fill="#1f7ae2"/>
<rect x="142" y="313" width="94" height="41" rx="7" fill="#4499f0" filter="url(#soft2)"/>
<rect x="96" y="305" width="9.500" height="44" fill="#e9f3fa"/>
<!-- tube over water -->
<path d="M120.500,302 L131,302 L131,330 Q131,361.500 104,361.500 L85.500,361.500 L85.500,352 L104,352 Q120.500,352 120.500,330 Z" fill="#3c8aec" stroke="#86b6f6" stroke-width="1"/>
<path d="M120.500,303 L131,303 L131,338 L120.500,338 Z" fill="url(#tubeG)"/>
<path d="M125.700,316 L129.500,322 L127.500,322 L127.500,327 L124,327 L124,322 L122,322 Z" fill="none" stroke="#bcd6fa" stroke-width="0.8"/>
<path d="M88,356.700 L94,353.500 L94,355.300 L100,355.300 L100,358.200 L94,358.200 L94,360 Z" fill="none" stroke="#cfe2fb" stroke-width="0.8"/>
<rect x="91" y="362.200" width="13" height="1.200" fill="#d8e8fa"/>
<rect x="67.300" y="350" width="17.400" height="15.300" fill="#6aa8f0"/>
<rect x="67.300" y="350" width="17.400" height="15.300" fill="url(#grid)"/>

<!-- right wall -->
<rect x="238" y="231" width="10.500" height="75" fill="url(#wallG)"/>
<path d="M244,231 L254.500,231 L254.500,234 L250,241 L244,241 Z" fill="#a0a8a8"/>

<!-- right yellow filter -->
<path d="M163,160 L248,160 Q251,160 251,163 L251,222 L163,222 Z" fill="#b4baba"/>
<rect x="163" y="162" width="85" height="2.500" fill="#8a9090"/>
<rect x="246" y="164" width="3" height="57" fill="#6e7575"/>
<rect x="163" y="162" width="4.500" height="68" fill="#878d8d"/>
<rect x="167" y="164" width="3.500" height="66" fill="#b4baba"/>
<path d="M165.500,164.500 L246.500,164.500 L246.500,220 L170,220 L170,176 Z" fill="url(#yel)"/>
<path d="M173,223 L249,223 L254.500,227.500 L254.500,232 L173,232 Z" fill="#8f9595"/>
<rect x="170" y="220" width="80" height="3" fill="#e6ecec"/>

<!-- pipe -->
<clipPath id="pipeclip"><path d="M107.700,42.700 C136.500,56.500 161.700,72 161.700,100 L161.700,197 L122.500,197 L122.500,106 C122.500,90 106,83 90.500,79.500 Q88.500,77 92.700,67.500 L101,49.500 Q104,44 107.700,42.700 Z"/></clipPath>
<g clip-path="url(#pipeclip)">
<rect x="85" y="38" width="85" height="165" fill="#e4e6e6"/>
<g filter="url(#soft2)">
<path d="M106.700,41.700 C137,56 163,72 163,100 L163,198" fill="none" stroke="#8a9090" stroke-width="9"/>
<path d="M121.500,198 L121.500,106 C121.500,91 106,84 90,80.500" fill="none" stroke="#8f9595" stroke-width="9"/>
<path d="M106,44 L90,79" fill="none" stroke="#b4b9b9" stroke-width="5"/>
</g>
<g filter="url(#soft4)"><circle cx="137.0" cy="80.5" r="1.0" fill="#3a3d3d" opacity="0.8"/><circle cx="145.8" cy="183.7" r="1.3" fill="#3a3d3d" opacity="0.8"/><circle cx="128.9" cy="116.9" r="1.3" fill="#3a3d3d" opacity="0.8"/><circle cx="144.7" cy="68.0" r="2.3" fill="#3a3d3d" opacity="0.8"/><circle cx="158.2" cy="145.8" r="2.3" fill="#3a3d3d" opacity="0.8"/><circle cx="145.6" cy="113.9" r="1.3" fill="#3a3d3d" opacity="0.8"/><circle cx="144.9" cy="78.1" r="2.0" fill="#555" opacity="0.8"/><circle cx="144.4" cy="137.6" r="2.3" fill="#555" opacity="0.8"/><circle cx="129.5" cy="137.7" r="1.3" fill="#6a6e6e" opacity="0.8"/><circle cx="129.3" cy="156.8" r="2.3" fill="#3a3d3d" opacity="0.8"/><circle cx="147.0" cy="127.5" r="2.3" fill="#2a2a2a" opacity="0.8"/><circle cx="152.4" cy="123.3" r="2.0" fill="#6a6e6e" opacity="0.8"/><circle cx="136.2" cy="168.0" r="1.3" fill="#3a3d3d" opacity="0.8"/><circle cx="145.5" cy="131.4" r="1.6" fill="#2a2a2a" opacity="0.8"/><circle cx="135.8" cy="193.3" r="1.0" fill="#2a2a2a" opacity="0.8"/><circle cx="131.6" cy="106.5" r="2.0" fill="#2a2a2a" opacity="0.8"/><circle cx="127.3" cy="150.9" r="2.3" fill="#6a6e6e" opacity="0.8"/><circle cx="137.6" cy="107.6" r="2.0" fill="#2a2a2a" opacity="0.8"/><circle cx="128.3" cy="72.7" r="1.6" fill="#2a2a2a" opacity="0.8"/><circle cx="149.7" cy="68.8" r="1.6" fill="#2a2a2a" opacity="0.8"/><circle cx="135.7" cy="112.5" r="1.6" fill="#3a3d3d" opacity="0.8"/><circle cx="158.0" cy="108.3" r="2.3" fill="#3a3d3d" opacity="0.8"/><circle cx="142.8" cy="89.7" r="1.6" fill="#555" opacity="0.8"/><circle cx="151.1" cy="114.1" r="2.0" fill="#3a3d3d" opacity="0.8"/><circle cx="131.7" cy="114.6" r="1.6" fill="#555" opacity="0.8"/><circle cx="153.9" cy="177.5" r="1.6" fill="#2a2a2a" opacity="0.8"/><circle cx="159.5" cy="152.9" r="2.0" fill="#555" opacity="0.8"/><circle cx="131.1" cy="84.0" r="1.3" fill="#555" opacity="0.8"/><circle cx="126.4" cy="173.0" r="1.3" fill="#6a6e6e" opacity="0.8"/><circle cx="135.6" cy="79.8" r="2.3" fill="#6a6e6e" opacity="0.8"/><circle cx="146.7" cy="103.3" r="1.3" fill="#3a3d3d" opacity="0.8"/><circle cx="141.5" cy="178.5" r="2.3" fill="#2a2a2a" opacity="0.8"/><circle cx="139.5" cy="113.6" r="2.0" fill="#2a2a2a" opacity="0.8"/><circle cx="128.1" cy="69.2" r="1.3" fill="#2a2a2a" opacity="0.8"/><circle cx="131.5" cy="106.2" r="1.0" fill="#3a3d3d" opacity="0.8"/><circle cx="126.0" cy="80.6" r="1.0" fill="#6a6e6e" opacity="0.8"/><circle cx="146.9" cy="69.6" r="1.3" fill="#2a2a2a" opacity="0.8"/><circle cx="137.8" cy="109.5" r="1.0" fill="#3a3d3d" opacity="0.8"/><circle cx="154.9" cy="195.1" r="2.0" fill="#2a2a2a" opacity="0.8"/><circle cx="142.5" cy="71.7" r="1.0" fill="#6a6e6e" opacity="0.8"/><circle cx="151.2" cy="125.1" r="1.3" fill="#3a3d3d" opacity="0.8"/><circle cx="133.0" cy="189.5" r="1.6" fill="#555" opacity="0.8"/><circle cx="149.5" cy="184.3" r="2.3" fill="#6a6e6e" opacity="0.8"/><circle cx="159.3" cy="177.4" r="1.6" fill="#6a6e6e" opacity="0.8"/><circle cx="156.9" cy="108.4" r="1.3" fill="#6a6e6e" opacity="0.8"/><circle cx="147.6" cy="143.4" r="1.3" fill="#555" opacity="0.8"/><circle cx="153.8" cy="160.6" r="1.3" fill="#555" opacity="0.8"/><circle cx="143.6" cy="108.4" r="1.0" fill="#3a3d3d" opacity="0.8"/><circle cx="152.9" cy="124.2" r="1.3" fill="#6a6e6e" opacity="0.8"/><circle cx="141.2" cy="187.4" r="1.6" fill="#6a6e6e" opacity="0.8"/><circle cx="128.7" cy="73.9" r="2.0" fill="#555" opacity="0.8"/><circle cx="137.5" cy="125.6" r="2.3" fill="#3a3d3d" opacity="0.8"/><circle cx="142.3" cy="148.8" r="1.0" fill="#3a3d3d" opacity="0.8"/><circle cx="156.9" cy="166.4" r="1.3" fill="#2a2a2a" opacity="0.8"/><circle cx="156.2" cy="119.0" r="1.6" fill="#3a3d3d" opacity="0.8"/><circle cx="153.2" cy="192.1" r="2.0" fill="#2a2a2a" opacity="0.8"/><circle cx="139.6" cy="188.8" r="1.3" fill="#555" opacity="0.8"/><circle cx="146.1" cy="123.3" r="1.3" fill="#2a2a2a" opacity="0.8"/><circle cx="148.3" cy="107.7" r="2.3" fill="#555" opacity="0.8"/><circle cx="126.7" cy="168.7" r="1.0" fill="#555" opacity="0.8"/><circle cx="140.7" cy="178.6" r="1.3" fill="#3a3d3d" opacity="0.8"/><circle cx="134.6" cy="99.8" r="1.3" fill="#6a6e6e" opacity="0.8"/><circle cx="134.8" cy="117.0" r="1.3" fill="#3a3d3d" opacity="0.8"/><circle cx="156.9" cy="108.1" r="2.0" fill="#2a2a2a" opacity="0.8"/><circle cx="154.1" cy="179.4" r="1.3" fill="#555" opacity="0.8"/><circle cx="143.8" cy="62.5" r="2.0" fill="#555" opacity="0.8"/><circle cx="146.7" cy="165.5" r="1.3" fill="#555" opacity="0.8"/><circle cx="107.7" cy="70.6" r="1.0" fill="#444" opacity="0.8"/><circle cx="118.5" cy="61.8" r="2.0" fill="#444" opacity="0.8"/><circle cx="124.4" cy="55.2" r="1.0" fill="#444" opacity="0.8"/><circle cx="110.5" cy="60.3" r="1.0" fill="#444" opacity="0.8"/><circle cx="117.2" cy="68.9" r="1.0" fill="#444" opacity="0.8"/><circle cx="115.5" cy="70.4" r="1.3" fill="#444" opacity="0.8"/><circle cx="122.0" cy="65.6" r="2.0" fill="#444" opacity="0.8"/><circle cx="117.2" cy="59.4" r="1.6" fill="#444" opacity="0.8"/><circle cx="128.0" cy="78.8" r="1.3" fill="#444" opacity="0.8"/><circle cx="125.8" cy="56.1" r="1.0" fill="#444" opacity="0.8"/><circle cx="114.2" cy="61.5" r="1.3" fill="#444" opacity="0.8"/><circle cx="115.1" cy="58.4" r="1.6" fill="#444" opacity="0.8"/><circle cx="124.4" cy="78.9" r="1.3" fill="#444" opacity="0.8"/><circle cx="128.4" cy="71.3" r="1.6" fill="#444" opacity="0.8"/><circle cx="131.4" cy="191.5" r="2.3" fill="#3a3d3d" opacity="0.8"/><circle cx="150.1" cy="167.8" r="2.3" fill="#3a3d3d" opacity="0.8"/><circle cx="157.7" cy="190.0" r="1.6" fill="#2a2a2a" opacity="0.8"/><circle cx="140.4" cy="180.5" r="2.0" fill="#555" opacity="0.8"/><circle cx="133.1" cy="174.6" r="2.0" fill="#3a3d3d" opacity="0.8"/><circle cx="137.5" cy="178.8" r="1.3" fill="#555" opacity="0.8"/><circle cx="137.3" cy="183.7" r="1.3" fill="#3a3d3d" opacity="0.8"/><circle cx="157.5" cy="188.7" r="1.3" fill="#3a3d3d" opacity="0.8"/><circle cx="135.2" cy="166.2" r="1.6" fill="#555" opacity="0.8"/><circle cx="150.4" cy="189.6" r="2.0" fill="#555" opacity="0.8"/><circle cx="131.6" cy="192.6" r="2.3" fill="#2a2a2a" opacity="0.8"/><circle cx="137.1" cy="173.4" r="1.6" fill="#555" opacity="0.8"/><circle cx="154.8" cy="173.1" r="1.3" fill="#2a2a2a" opacity="0.8"/><circle cx="129.7" cy="172.8" r="1.6" fill="#3a3d3d" opacity="0.8"/><circle cx="135.2" cy="168.7" r="1.3" fill="#555" opacity="0.8"/><circle cx="157.8" cy="177.5" r="2.0" fill="#2a2a2a" opacity="0.8"/><circle cx="122.1" cy="71.3" r="1.0" fill="#4a4a4a" opacity="0.8"/><circle cx="148.0" cy="84.1" r="1.3" fill="#4a4a4a" opacity="0.8"/><circle cx="119.6" cy="61.9" r="1.3" fill="#4a4a4a" opacity="0.8"/><circle cx="138.1" cy="71.4" r="1.0" fill="#4a4a4a" opacity="0.8"/><circle cx="127.3" cy="70.5" r="1.0" fill="#4a4a4a" opacity="0.8"/><circle cx="126.7" cy="79.3" r="1.3" fill="#4a4a4a" opacity="0.8"/><circle cx="119.2" cy="56.5" r="1.6" fill="#4a4a4a" opacity="0.8"/><circle cx="135.6" cy="61.5" r="1.3" fill="#4a4a4a" opacity="0.8"/></g>
</g>

<!-- splash -->
<path d="M154,200 L166,200 L166,223 L170,223 L170,229 L159,229 L155,222 Z" fill="#dfe9ec"/>
<path d="M128,198 L158,198 L156,208 L152,205 L150,212 L146,207 L143,215 L140,208 L136,213 L133,206 L129,209 Z" fill="#eef8fd"/>
<circle cx="138" cy="205" r="1.200" fill="#7cc4ee"/><circle cx="145" cy="203" r="1.200" fill="#7cc4ee"/><circle cx="150" cy="207" r="1" fill="#7cc4ee"/><circle cx="142" cy="209" r="1" fill="#9ad4f4"/>
<path d="M157,202 L166,202 L166,212 Q160,214 157,208 Z" fill="#a6c8ee"/>
<ellipse cx="162" cy="207.500" rx="3" ry="3.200" fill="#1d55c8"/>

<!-- mint arrows -->
<path d="M70,190 L92,190 L92,186 L106,194.5 L92,203 L92,199 L70,199 Z" fill="#a6ecd0"/>
<path d="M231,188 L257,188 Q261,188 261,184 L261,168.750 L256,168.750 L266,155.500 L276,168.750 L271,168.750 L271,188 Q271,197 262,197 L231,197 Q228,192.500 231,188 Z" fill="#b9f0dc"/>
<!-- light green arrow -->
<path d="M65,245.500 C69,260 74,274 90,282" fill="none" stroke="#c4f4c6" stroke-width="7" opacity="0.8"/>
<path d="M60,236 L54.700,249.500 L73.500,241.200 Z" fill="#c4f4c6" opacity="0.8"/>

<!-- blue arrows -->
<path d="M138,220 L148,220 L148,240 Q148,247 155,247 L180,247 L180,240.500 L194,252.500 L180,264 L180,257 L151,257 Q138,257 138,244 Z" fill="#1b57e0"/>
<path d="M211,247.500 L212.500,249 L210.500,251 L212,253.500 L210.500,256.600 L230,256.600 C234,256.600 236,260 235.500,265 C234.500,270 228,274 219,280 L208.500,288.500 L202,283 L197,302 L213.600,301 L217,297 L235,281.500 C241,276 244,271 244.300,262 C244.500,255 241,248 233,247 Z" fill="#1b57e0"/>
<!-- swirl -->
<path d="M161,277.500 Q169,279 170,288" fill="none" stroke="#1d5be0" stroke-width="2.500"/>
<path d="M166,287 L174,287 L170,295.500 Z" fill="#1d5be0"/>
<path d="M160,277.500 Q151,280 153,289 L155.500,296" fill="none" stroke="#2468e4" stroke-width="2.500"/>
<path d="M159,294.500 L169,298 L161,303 Z" fill="#1b57e0"/>
<path d="M154,303 L162,299 L176,302 L182,305 L160,309 Z" fill="#1f62e2"/>
<path d="M158,304 L163,300 L164,305 Z" fill="#e8f4ff"/>
<path d="M107.500,285.500 L116.500,289.500 L113.500,298 L106,294.500 Z" fill="#2a82e8"/>

<!-- tube arrows (white outline) -->
<path d="M125.500,245 L130,253 L127.500,253 L127.500,258 L123.500,258 L123.500,253 L121,253 Z" fill="#c8dcf6" stroke="#4f6ea6" stroke-width="0.900"/>
<path d="M125.200,280.500 L130,288 L127.500,288 L127.500,293 L123,293 L123,288 L120.500,288 Z" fill="#86b0f2" stroke="#2a5ac8" stroke-width="0.900"/>

<!-- bubbles -->
<circle cx="160.0" cy="241.0" r="1.7" fill="#1d78b8" stroke="#0b5a9a" stroke-width="0.8"/><circle cx="159.5" cy="240.5" r="0.6" fill="#7fd0e8"/><circle cx="178.0" cy="241.0" r="1.7" fill="#1d78b8" stroke="#0b5a9a" stroke-width="0.8"/><circle cx="177.5" cy="240.5" r="0.6" fill="#7fd0e8"/><circle cx="151.0" cy="245.0" r="1.7" fill="#1d78b8" stroke="#0b5a9a" stroke-width="0.8"/><circle cx="150.5" cy="244.5" r="0.6" fill="#7fd0e8"/><circle cx="134.0" cy="247.0" r="1.7" fill="#1d78b8" stroke="#0b5a9a" stroke-width="0.8"/><circle cx="133.5" cy="246.5" r="0.6" fill="#7fd0e8"/><circle cx="195.0" cy="243.0" r="1.7" fill="#1d78b8" stroke="#0b5a9a" stroke-width="0.8"/><circle cx="194.5" cy="242.5" r="0.6" fill="#7fd0e8"/><circle cx="194.0" cy="246.5" r="1.7" fill="#1d78b8" stroke="#0b5a9a" stroke-width="0.8"/><circle cx="193.5" cy="246.0" r="0.6" fill="#7fd0e8"/><circle cx="207.0" cy="245.0" r="1.7" fill="#1d78b8" stroke="#0b5a9a" stroke-width="0.8"/><circle cx="206.5" cy="244.5" r="0.6" fill="#7fd0e8"/><circle cx="196.0" cy="255.0" r="1.7" fill="#1d78b8" stroke="#0b5a9a" stroke-width="0.8"/><circle cx="195.5" cy="254.5" r="0.6" fill="#7fd0e8"/><circle cx="203.0" cy="252.0" r="1.7" fill="#1d78b8" stroke="#0b5a9a" stroke-width="0.8"/><circle cx="202.5" cy="251.5" r="0.6" fill="#7fd0e8"/><circle cx="209.0" cy="256.0" r="1.7" fill="#1d78b8" stroke="#0b5a9a" stroke-width="0.8"/><circle cx="208.5" cy="255.5" r="0.6" fill="#7fd0e8"/><circle cx="141.0" cy="257.0" r="1.7" fill="#1d78b8" stroke="#0b5a9a" stroke-width="0.8"/><circle cx="140.5" cy="256.5" r="0.6" fill="#7fd0e8"/><circle cx="145.0" cy="261.0" r="1.7" fill="#1d78b8" stroke="#0b5a9a" stroke-width="0.8"/><circle cx="144.5" cy="260.5" r="0.6" fill="#7fd0e8"/><circle cx="155.0" cy="260.0" r="1.7" fill="#1d78b8" stroke="#0b5a9a" stroke-width="0.8"/><circle cx="154.5" cy="259.5" r="0.6" fill="#7fd0e8"/><circle cx="157.5" cy="259.0" r="1.7" fill="#1d78b8" stroke="#0b5a9a" stroke-width="0.8"/><circle cx="157.0" cy="258.5" r="0.6" fill="#7fd0e8"/><circle cx="160.0" cy="258.0" r="1.7" fill="#1d78b8" stroke="#0b5a9a" stroke-width="0.8"/><circle cx="159.5" cy="257.5" r="0.6" fill="#7fd0e8"/><circle cx="214.0" cy="264.0" r="1.7" fill="#1d78b8" stroke="#0b5a9a" stroke-width="0.8"/><circle cx="213.5" cy="263.5" r="0.6" fill="#7fd0e8"/><circle cx="220.0" cy="267.0" r="1.7" fill="#1d78b8" stroke="#0b5a9a" stroke-width="0.8"/><circle cx="219.5" cy="266.5" r="0.6" fill="#7fd0e8"/><circle cx="227.0" cy="266.0" r="1.7" fill="#1d78b8" stroke="#0b5a9a" stroke-width="0.8"/><circle cx="226.5" cy="265.5" r="0.6" fill="#7fd0e8"/><circle cx="232.0" cy="267.0" r="1.7" fill="#1d78b8" stroke="#0b5a9a" stroke-width="0.8"/><circle cx="231.5" cy="266.5" r="0.6" fill="#7fd0e8"/><circle cx="245.0" cy="261.0" r="1.7" fill="#1d78b8" stroke="#0b5a9a" stroke-width="0.8"/><circle cx="244.5" cy="260.5" r="0.6" fill="#7fd0e8"/><circle cx="245.0" cy="283.0" r="1.7" fill="#1d78b8" stroke="#0b5a9a" stroke-width="0.8"/><circle cx="244.5" cy="282.5" r="0.6" fill="#7fd0e8"/><circle cx="229.0" cy="288.0" r="1.7" fill="#1d78b8" stroke="#0b5a9a" stroke-width="0.8"/><circle cx="228.5" cy="287.5" r="0.6" fill="#7fd0e8"/><circle cx="217.0" cy="293.0" r="1.7" fill="#1d78b8" stroke="#0b5a9a" stroke-width="0.8"/><circle cx="216.5" cy="292.5" r="0.6" fill="#7fd0e8"/><circle cx="189.0" cy="299.0" r="1.7" fill="#1d78b8" stroke="#0b5a9a" stroke-width="0.8"/><circle cx="188.5" cy="298.5" r="0.6" fill="#7fd0e8"/><circle cx="225.0" cy="295.0" r="1.7" fill="#1d78b8" stroke="#0b5a9a" stroke-width="0.8"/><circle cx="224.5" cy="294.5" r="0.6" fill="#7fd0e8"/><circle cx="138.0" cy="301.0" r="1.7" fill="#1d78b8" stroke="#0b5a9a" stroke-width="0.8"/><circle cx="137.5" cy="300.5" r="0.6" fill="#7fd0e8"/><circle cx="146.0" cy="296.0" r="1.7" fill="#1d78b8" stroke="#0b5a9a" stroke-width="0.8"/><circle cx="145.5" cy="295.5" r="0.6" fill="#7fd0e8"/><circle cx="147.0" cy="302.0" r="1.7" fill="#1d78b8" stroke="#0b5a9a" stroke-width="0.8"/><circle cx="146.5" cy="301.5" r="0.6" fill="#7fd0e8"/><circle cx="151.0" cy="299.0" r="1.7" fill="#1d78b8" stroke="#0b5a9a" stroke-width="0.8"/><circle cx="150.5" cy="298.5" r="0.6" fill="#7fd0e8"/><circle cx="156.0" cy="297.0" r="1.7" fill="#1d78b8" stroke="#0b5a9a" stroke-width="0.8"/><circle cx="155.5" cy="296.5" r="0.6" fill="#7fd0e8"/><circle cx="154.0" cy="278.0" r="1.7" fill="#1d78b8" stroke="#0b5a9a" stroke-width="0.8"/><circle cx="153.5" cy="277.5" r="0.6" fill="#7fd0e8"/><circle cx="160.0" cy="278.0" r="1.7" fill="#1d78b8" stroke="#0b5a9a" stroke-width="0.8"/><circle cx="159.5" cy="277.5" r="0.6" fill="#7fd0e8"/><circle cx="165.0" cy="283.0" r="1.7" fill="#1d78b8" stroke="#0b5a9a" stroke-width="0.8"/><circle cx="164.5" cy="282.5" r="0.6" fill="#7fd0e8"/><circle cx="136.0" cy="240.0" r="1.7" fill="#1d78b8" stroke="#0b5a9a" stroke-width="0.8"/><circle cx="135.5" cy="239.5" r="0.6" fill="#7fd0e8"/><circle cx="135.5" cy="234.0" r="1.7" fill="#1d78b8" stroke="#0b5a9a" stroke-width="0.8"/><circle cx="135.0" cy="233.5" r="0.6" fill="#7fd0e8"/><circle cx="108.0" cy="283.0" r="1.7" fill="#1d78b8" stroke="#0b5a9a" stroke-width="0.8"/><circle cx="107.5" cy="282.5" r="0.6" fill="#7fd0e8"/><circle cx="172.0" cy="303.0" r="1.7" fill="#1d78b8" stroke="#0b5a9a" stroke-width="0.8"/><circle cx="171.5" cy="302.5" r="0.6" fill="#7fd0e8"/><circle cx="198.0" cy="303.0" r="1.7" fill="#1d78b8" stroke="#0b5a9a" stroke-width="0.8"/><circle cx="197.5" cy="302.5" r="0.6" fill="#7fd0e8"/><circle cx="152.6" cy="358.7" r="1.2" fill="#2672e4" stroke="#0d47bc" stroke-width="0.9"/><circle cx="152.2" cy="358.2" r="0.5" fill="#8cc4f8"/><circle cx="162.1" cy="350.2" r="1.2" fill="#2672e4" stroke="#0d47bc" stroke-width="0.9"/><circle cx="161.7" cy="349.7" r="0.5" fill="#8cc4f8"/><circle cx="168.9" cy="347.9" r="1.2" fill="#2672e4" stroke="#0d47bc" stroke-width="0.9"/><circle cx="168.5" cy="347.4" r="0.5" fill="#8cc4f8"/><circle cx="153.2" cy="341.5" r="1.5" fill="#2672e4" stroke="#0d47bc" stroke-width="0.9"/><circle cx="152.8" cy="341.0" r="0.5" fill="#8cc4f8"/><circle cx="191.9" cy="334.9" r="1.5" fill="#2672e4" stroke="#0d47bc" stroke-width="0.9"/><circle cx="191.5" cy="334.4" r="0.5" fill="#8cc4f8"/><circle cx="149.2" cy="355.5" r="1.8" fill="#2672e4" stroke="#0d47bc" stroke-width="0.9"/><circle cx="148.8" cy="355.0" r="0.5" fill="#8cc4f8"/><circle cx="155.4" cy="343.5" r="1.5" fill="#2672e4" stroke="#0d47bc" stroke-width="0.9"/><circle cx="155.0" cy="343.0" r="0.5" fill="#8cc4f8"/><circle cx="164.1" cy="349.1" r="2.0" fill="#2672e4" stroke="#0d47bc" stroke-width="0.9"/><circle cx="163.7" cy="348.6" r="0.5" fill="#8cc4f8"/><circle cx="186.5" cy="358.7" r="1.5" fill="#2672e4" stroke="#0d47bc" stroke-width="0.9"/><circle cx="186.1" cy="358.2" r="0.5" fill="#8cc4f8"/><circle cx="239.8" cy="347.7" r="1.8" fill="#2672e4" stroke="#0d47bc" stroke-width="0.9"/><circle cx="239.4" cy="347.2" r="0.5" fill="#8cc4f8"/><circle cx="189.7" cy="351.8" r="2.0" fill="#2672e4" stroke="#0d47bc" stroke-width="0.9"/><circle cx="189.3" cy="351.3" r="0.5" fill="#8cc4f8"/><circle cx="197.7" cy="353.9" r="1.2" fill="#2672e4" stroke="#0d47bc" stroke-width="0.9"/><circle cx="197.3" cy="353.4" r="0.5" fill="#8cc4f8"/><circle cx="141.9" cy="346.4" r="2.0" fill="#2672e4" stroke="#0d47bc" stroke-width="0.9"/><circle cx="141.5" cy="345.9" r="0.5" fill="#8cc4f8"/><circle cx="135.1" cy="341.4" r="1.5" fill="#2672e4" stroke="#0d47bc" stroke-width="0.9"/><circle cx="134.7" cy="340.9" r="0.5" fill="#8cc4f8"/><circle cx="165.6" cy="356.1" r="1.5" fill="#2672e4" stroke="#0d47bc" stroke-width="0.9"/><circle cx="165.2" cy="355.6" r="0.5" fill="#8cc4f8"/><circle cx="215.8" cy="356.9" r="1.5" fill="#2672e4" stroke="#0d47bc" stroke-width="0.9"/><circle cx="215.4" cy="356.4" r="0.5" fill="#8cc4f8"/><circle cx="166.7" cy="357.2" r="1.8" fill="#2672e4" stroke="#0d47bc" stroke-width="0.9"/><circle cx="166.3" cy="356.7" r="0.5" fill="#8cc4f8"/><circle cx="219.0" cy="354.9" r="1.8" fill="#2672e4" stroke="#0d47bc" stroke-width="0.9"/><circle cx="218.6" cy="354.4" r="0.5" fill="#8cc4f8"/><circle cx="152.8" cy="359.7" r="1.8" fill="#2672e4" stroke="#0d47bc" stroke-width="0.9"/><circle cx="152.4" cy="359.2" r="0.5" fill="#8cc4f8"/><circle cx="145.6" cy="354.7" r="2.0" fill="#2672e4" stroke="#0d47bc" stroke-width="0.9"/><circle cx="145.2" cy="354.2" r="0.5" fill="#8cc4f8"/><circle cx="162.5" cy="334.0" r="1.5" fill="#2672e4" stroke="#0d47bc" stroke-width="0.9"/><circle cx="162.1" cy="333.5" r="0.5" fill="#8cc4f8"/><circle cx="151.1" cy="343.0" r="1.8" fill="#2672e4" stroke="#0d47bc" stroke-width="0.9"/><circle cx="150.7" cy="342.5" r="0.5" fill="#8cc4f8"/><circle cx="134.7" cy="356.2" r="2.0" fill="#2672e4" stroke="#0d47bc" stroke-width="0.9"/><circle cx="134.3" cy="355.7" r="0.5" fill="#8cc4f8"/><circle cx="170.0" cy="345.0" r="1.2" fill="#2672e4" stroke="#0d47bc" stroke-width="0.9"/><circle cx="169.6" cy="344.5" r="0.5" fill="#8cc4f8"/><circle cx="151.6" cy="336.2" r="1.5" fill="#2672e4" stroke="#0d47bc" stroke-width="0.9"/><circle cx="151.2" cy="335.7" r="0.5" fill="#8cc4f8"/><circle cx="136.4" cy="352.4" r="1.5" fill="#2672e4" stroke="#0d47bc" stroke-width="0.9"/><circle cx="136.0" cy="351.9" r="0.5" fill="#8cc4f8"/><circle cx="213.8" cy="358.8" r="1.5" fill="#2672e4" stroke="#0d47bc" stroke-width="0.9"/><circle cx="213.4" cy="358.3" r="0.5" fill="#8cc4f8"/><circle cx="173.1" cy="348.4" r="1.5" fill="#2672e4" stroke="#0d47bc" stroke-width="0.9"/><circle cx="172.7" cy="347.9" r="0.5" fill="#8cc4f8"/><circle cx="193.0" cy="357.8" r="1.5" fill="#2672e4" stroke="#0d47bc" stroke-width="0.9"/><circle cx="192.6" cy="357.3" r="0.5" fill="#8cc4f8"/><circle cx="193.6" cy="358.6" r="2.0" fill="#2672e4" stroke="#0d47bc" stroke-width="0.9"/><circle cx="193.2" cy="358.1" r="0.5" fill="#8cc4f8"/><circle cx="204.4" cy="349.8" r="1.8" fill="#2672e4" stroke="#0d47bc" stroke-width="0.9"/><circle cx="204.0" cy="349.3" r="0.5" fill="#8cc4f8"/><circle cx="202.8" cy="344.5" r="1.2" fill="#2672e4" stroke="#0d47bc" stroke-width="0.9"/><circle cx="202.4" cy="344.0" r="0.5" fill="#8cc4f8"/><circle cx="237.2" cy="349.2" r="1.2" fill="#2672e4" stroke="#0d47bc" stroke-width="0.9"/><circle cx="236.8" cy="348.7" r="0.5" fill="#8cc4f8"/><circle cx="136.0" cy="350.1" r="1.8" fill="#2672e4" stroke="#0d47bc" stroke-width="0.9"/><circle cx="135.6" cy="349.6" r="0.5" fill="#8cc4f8"/><circle cx="141.3" cy="355.9" r="1.5" fill="#2672e4" stroke="#0d47bc" stroke-width="0.9"/><circle cx="140.9" cy="355.4" r="0.5" fill="#8cc4f8"/><circle cx="162.4" cy="346.9" r="1.2" fill="#2672e4" stroke="#0d47bc" stroke-width="0.9"/><circle cx="162.0" cy="346.4" r="0.5" fill="#8cc4f8"/><circle cx="169.7" cy="345.6" r="1.8" fill="#2672e4" stroke="#0d47bc" stroke-width="0.9"/><circle cx="169.3" cy="345.1" r="0.5" fill="#8cc4f8"/><circle cx="206.7" cy="356.0" r="2.0" fill="#2672e4" stroke="#0d47bc" stroke-width="0.9"/><circle cx="206.3" cy="355.5" r="0.5" fill="#8cc4f8"/><circle cx="186.9" cy="356.5" r="1.5" fill="#2672e4" stroke="#0d47bc" stroke-width="0.9"/><circle cx="186.5" cy="356.0" r="0.5" fill="#8cc4f8"/><circle cx="184.9" cy="351.9" r="1.5" fill="#2672e4" stroke="#0d47bc" stroke-width="0.9"/><circle cx="184.5" cy="351.4" r="0.5" fill="#8cc4f8"/><circle cx="136.7" cy="353.1" r="1.8" fill="#2672e4" stroke="#0d47bc" stroke-width="0.9"/><circle cx="136.3" cy="352.6" r="0.5" fill="#8cc4f8"/><circle cx="150.8" cy="335.0" r="1.5" fill="#2672e4" stroke="#0d47bc" stroke-width="0.9"/><circle cx="150.4" cy="334.5" r="0.5" fill="#8cc4f8"/><circle cx="236.7" cy="348.8" r="1.5" fill="#2672e4" stroke="#0d47bc" stroke-width="0.9"/><circle cx="236.3" cy="348.3" r="0.5" fill="#8cc4f8"/><circle cx="150.1" cy="357.2" r="1.8" fill="#2672e4" stroke="#0d47bc" stroke-width="0.9"/><circle cx="149.7" cy="356.7" r="0.5" fill="#8cc4f8"/><circle cx="146.8" cy="355.6" r="2.0" fill="#2672e4" stroke="#0d47bc" stroke-width="0.9"/><circle cx="146.4" cy="355.1" r="0.5" fill="#8cc4f8"/><circle cx="204.4" cy="360.2" r="2.0" fill="#2672e4" stroke="#0d47bc" stroke-width="0.9"/><circle cx="204.0" cy="359.7" r="0.5" fill="#8cc4f8"/><circle cx="146.4" cy="349.9" r="1.8" fill="#2672e4" stroke="#0d47bc" stroke-width="0.9"/><circle cx="146.0" cy="349.4" r="0.5" fill="#8cc4f8"/><circle cx="207.4" cy="345.3" r="1.5" fill="#2672e4" stroke="#0d47bc" stroke-width="0.9"/><circle cx="207.0" cy="344.8" r="0.5" fill="#8cc4f8"/><circle cx="168.0" cy="343.5" r="1.2" fill="#2672e4" stroke="#0d47bc" stroke-width="0.9"/><circle cx="167.6" cy="343.0" r="0.5" fill="#8cc4f8"/><circle cx="191.2" cy="360.4" r="1.5" fill="#2672e4" stroke="#0d47bc" stroke-width="0.9"/><circle cx="190.8" cy="359.9" r="0.5" fill="#8cc4f8"/><circle cx="196.7" cy="351.9" r="2.0" fill="#2672e4" stroke="#0d47bc" stroke-width="0.9"/><circle cx="196.3" cy="351.4" r="0.5" fill="#8cc4f8"/><circle cx="222.7" cy="352.5" r="1.8" fill="#2672e4" stroke="#0d47bc" stroke-width="0.9"/><circle cx="222.3" cy="352.0" r="0.5" fill="#8cc4f8"/><circle cx="133.3" cy="355.3" r="2.0" fill="#2672e4" stroke="#0d47bc" stroke-width="0.9"/><circle cx="132.9" cy="354.8" r="0.5" fill="#8cc4f8"/><circle cx="154.3" cy="349.7" r="1.5" fill="#2672e4" stroke="#0d47bc" stroke-width="0.9"/><circle cx="153.9" cy="349.2" r="0.5" fill="#8cc4f8"/><circle cx="143.9" cy="356.5" r="1.8" fill="#2672e4" stroke="#0d47bc" stroke-width="0.9"/><circle cx="143.5" cy="356.0" r="0.5" fill="#8cc4f8"/><circle cx="180.4" cy="350.9" r="2.0" fill="#2672e4" stroke="#0d47bc" stroke-width="0.9"/><circle cx="180.0" cy="350.4" r="0.5" fill="#8cc4f8"/><circle cx="193.5" cy="352.3" r="1.8" fill="#2672e4" stroke="#0d47bc" stroke-width="0.9"/><circle cx="193.1" cy="351.8" r="0.5" fill="#8cc4f8"/><circle cx="150.2" cy="359.0" r="2.0" fill="#2672e4" stroke="#0d47bc" stroke-width="0.9"/><circle cx="149.8" cy="358.5" r="0.5" fill="#8cc4f8"/><circle cx="141.1" cy="360.0" r="1.8" fill="#2672e4" stroke="#0d47bc" stroke-width="0.9"/><circle cx="140.7" cy="359.5" r="0.5" fill="#8cc4f8"/><circle cx="237.9" cy="354.4" r="2.0" fill="#2672e4" stroke="#0d47bc" stroke-width="0.9"/><circle cx="237.5" cy="353.9" r="0.5" fill="#8cc4f8"/><circle cx="235.3" cy="358.2" r="2.0" fill="#2672e4" stroke="#0d47bc" stroke-width="0.9"/><circle cx="234.9" cy="357.7" r="0.5" fill="#8cc4f8"/><circle cx="152.5" cy="359.1" r="1.2" fill="#2672e4" stroke="#0d47bc" stroke-width="0.9"/><circle cx="152.1" cy="358.6" r="0.5" fill="#8cc4f8"/><circle cx="201.6" cy="360.5" r="1.8" fill="#2672e4" stroke="#0d47bc" stroke-width="0.9"/><circle cx="201.2" cy="360.0" r="0.5" fill="#8cc4f8"/><circle cx="202.5" cy="339.1" r="1.2" fill="#2672e4" stroke="#0d47bc" stroke-width="0.9"/><circle cx="202.1" cy="338.6" r="0.5" fill="#8cc4f8"/><circle cx="215.6" cy="349.3" r="1.5" fill="#2672e4" stroke="#0d47bc" stroke-width="0.9"/><circle cx="215.2" cy="348.8" r="0.5" fill="#8cc4f8"/><circle cx="164.0" cy="352.6" r="1.5" fill="#2672e4" stroke="#0d47bc" stroke-width="0.9"/><circle cx="163.6" cy="352.1" r="0.5" fill="#8cc4f8"/><circle cx="143.0" cy="341.3" r="1.8" fill="#2672e4" stroke="#0d47bc" stroke-width="0.9"/><circle cx="142.6" cy="340.8" r="0.5" fill="#8cc4f8"/><circle cx="212.2" cy="356.6" r="1.8" fill="#2672e4" stroke="#0d47bc" stroke-width="0.9"/><circle cx="211.8" cy="356.1" r="0.5" fill="#8cc4f8"/><circle cx="166.6" cy="352.5" r="1.8" fill="#2672e4" stroke="#0d47bc" stroke-width="0.9"/><circle cx="166.2" cy="352.0" r="0.5" fill="#8cc4f8"/><circle cx="146.7" cy="336.0" r="1.8" fill="#2672e4" stroke="#0d47bc" stroke-width="0.9"/><circle cx="146.3" cy="335.5" r="0.5" fill="#8cc4f8"/><circle cx="157.9" cy="347.2" r="1.2" fill="#2672e4" stroke="#0d47bc" stroke-width="0.9"/><circle cx="157.5" cy="346.7" r="0.5" fill="#8cc4f8"/><circle cx="143.6" cy="350.0" r="2.0" fill="#2672e4" stroke="#0d47bc" stroke-width="0.9"/><circle cx="143.2" cy="349.5" r="0.5" fill="#8cc4f8"/><circle cx="149.0" cy="360.4" r="1.8" fill="#2672e4" stroke="#0d47bc" stroke-width="0.9"/><circle cx="148.6" cy="359.9" r="0.5" fill="#8cc4f8"/><circle cx="197.1" cy="355.2" r="1.5" fill="#2672e4" stroke="#0d47bc" stroke-width="0.9"/><circle cx="196.7" cy="354.7" r="0.5" fill="#8cc4f8"/><circle cx="149.7" cy="355.1" r="2.0" fill="#2672e4" stroke="#0d47bc" stroke-width="0.9"/><circle cx="149.3" cy="354.6" r="0.5" fill="#8cc4f8"/><circle cx="183.8" cy="358.1" r="1.2" fill="#2672e4" stroke="#0d47bc" stroke-width="0.9"/><circle cx="183.4" cy="357.6" r="0.5" fill="#8cc4f8"/><circle cx="224.4" cy="357.4" r="1.8" fill="#2672e4" stroke="#0d47bc" stroke-width="0.9"/><circle cx="224.0" cy="356.9" r="0.5" fill="#8cc4f8"/><circle cx="139.8" cy="345.6" r="1.2" fill="#2672e4" stroke="#0d47bc" stroke-width="0.9"/><circle cx="139.4" cy="345.1" r="0.5" fill="#8cc4f8"/><circle cx="187.6" cy="349.0" r="2.0" fill="#2672e4" stroke="#0d47bc" stroke-width="0.9"/><circle cx="187.2" cy="348.5" r="0.5" fill="#8cc4f8"/><circle cx="133.0" cy="354.5" r="1.5" fill="#2672e4" stroke="#0d47bc" stroke-width="0.9"/><circle cx="132.6" cy="354.0" r="0.5" fill="#8cc4f8"/><circle cx="200.0" cy="336.0" r="2.4" fill="#2672e4" stroke="#0d47bc" stroke-width="0.9"/><circle cx="199.6" cy="335.5" r="0.5" fill="#8cc4f8"/><circle cx="203.0" cy="341.0" r="2.0" fill="#2672e4" stroke="#0d47bc" stroke-width="0.9"/><circle cx="202.6" cy="340.5" r="0.5" fill="#8cc4f8"/><circle cx="199.0" cy="344.0" r="1.6" fill="#2672e4" stroke="#0d47bc" stroke-width="0.9"/><circle cx="198.6" cy="343.5" r="0.5" fill="#8cc4f8"/><circle cx="206.0" cy="348.0" r="1.5" fill="#2672e4" stroke="#0d47bc" stroke-width="0.9"/><circle cx="205.6" cy="347.5" r="0.5" fill="#8cc4f8"/><circle cx="143.0" cy="336.0" r="1.6" fill="#2672e4" stroke="#0d47bc" stroke-width="0.9"/><circle cx="142.6" cy="335.5" r="0.5" fill="#8cc4f8"/><circle cx="146.0" cy="343.0" r="1.6" fill="#2672e4" stroke="#0d47bc" stroke-width="0.9"/><circle cx="145.6" cy="342.5" r="0.5" fill="#8cc4f8"/><circle cx="152.0" cy="339.0" r="1.5" fill="#2672e4" stroke="#0d47bc" stroke-width="0.9"/><circle cx="151.6" cy="338.5" r="0.5" fill="#8cc4f8"/><circle cx="158.0" cy="346.0" r="1.6" fill="#2672e4" stroke="#0d47bc" stroke-width="0.9"/><circle cx="157.6" cy="345.5" r="0.5" fill="#8cc4f8"/><circle cx="163.0" cy="341.0" r="1.5" fill="#2672e4" stroke="#0d47bc" stroke-width="0.9"/><circle cx="162.6" cy="340.5" r="0.5" fill="#8cc4f8"/><circle cx="170.0" cy="348.0" r="1.6" fill="#2672e4" stroke="#0d47bc" stroke-width="0.9"/><circle cx="169.6" cy="347.5" r="0.5" fill="#8cc4f8"/><circle cx="148.0" cy="350.0" r="1.6" fill="#2672e4" stroke="#0d47bc" stroke-width="0.9"/><circle cx="147.6" cy="349.5" r="0.5" fill="#8cc4f8"/><circle cx="155.0" cy="353.0" r="1.6" fill="#2672e4" stroke="#0d47bc" stroke-width="0.9"/><circle cx="154.6" cy="352.5" r="0.5" fill="#8cc4f8"/><circle cx="138.8" cy="343.3" r="1.4" fill="#2672e4" stroke="#0d47bc" stroke-width="0.9"/><circle cx="138.4" cy="342.8" r="0.5" fill="#8cc4f8"/><circle cx="131.5" cy="348.9" r="1.4" fill="#2672e4" stroke="#0d47bc" stroke-width="0.9"/><circle cx="131.1" cy="348.4" r="0.5" fill="#8cc4f8"/><circle cx="134.8" cy="347.0" r="1.4" fill="#2672e4" stroke="#0d47bc" stroke-width="0.9"/><circle cx="134.4" cy="346.5" r="0.5" fill="#8cc4f8"/><circle cx="130.3" cy="341.7" r="1.4" fill="#2672e4" stroke="#0d47bc" stroke-width="0.9"/><circle cx="129.9" cy="341.2" r="0.5" fill="#8cc4f8"/><circle cx="131.9" cy="349.2" r="1.4" fill="#2672e4" stroke="#0d47bc" stroke-width="0.9"/><circle cx="131.5" cy="348.7" r="0.5" fill="#8cc4f8"/><circle cx="139.7" cy="358.2" r="1.4" fill="#2672e4" stroke="#0d47bc" stroke-width="0.9"/><circle cx="139.3" cy="357.7" r="0.5" fill="#8cc4f8"/><circle cx="138.4" cy="359.5" r="1.4" fill="#2672e4" stroke="#0d47bc" stroke-width="0.9"/><circle cx="138.0" cy="359.0" r="0.5" fill="#8cc4f8"/><circle cx="139.5" cy="352.4" r="1.4" fill="#2672e4" stroke="#0d47bc" stroke-width="0.9"/><circle cx="139.1" cy="351.9" r="0.5" fill="#8cc4f8"/>
<!-- down arrows -->
<g fill="#10206e">
<path d="M145.500,317 L148.500,317 L148.500,325 L150.500,325 L147,331 L143.500,325 L145.500,325 Z"/>
<path d="M159.500,317 L162.500,317 L162.500,325 L164.500,325 L161,331 L157.500,325 L159.500,325 Z"/>
<path d="M174.500,317 L177.500,317 L177.500,325 L179.500,325 L176,331 L172.500,325 L174.500,325 Z"/>
</g>

<!-- dark red arrows -->
<path d="M75,42.300 L104.700,58.500 L107,52.500 L116.700,66 L98.700,73.500 L101,66.700 L71.200,50.700 Z" fill="#78181a"/>
<path d="M133,72.700 L141,74.600 Q146.900,76 146.900,83 L146.900,147 L138.400,147 L138.400,87 Q138.400,83.500 135.500,82.300 L130,80 Z" fill="#78181a"/>
<path d="M131.500,146 L152.500,146 L142,162.500 Z" fill="#78181a"/>
</g>

<!-- leader lines -->
<g filter="url(#soft3)"><path d="M161,205.500 L353.500,268 L520,268" fill="none" stroke="#0c0c0c" stroke-width="2" stroke-linejoin="miter"/>
<path d="M149,268.500 L353,345.500 L540,345.500" fill="none" stroke="#0c0c0c" stroke-width="2"/></g>

<!-- legend arrows -->
<g filter="url(#soft)">
<path d="M310,74 L347,74" stroke="#4e0f55" stroke-width="2"/>
<path d="M357.500,74 L341,65 L346,74 L340.500,83 Z" fill="#5c0e62"/>
<path d="M310,126 L347,126" stroke="#1b2f86" stroke-width="2"/>
<path d="M357.500,126 L341,117.300 L346,126 L340.500,134.700 Z" fill="#1a3ad2"/>
<path d="M310,202.300 L347,202.300" stroke="#bfeeda" stroke-width="2"/>
<path d="M357,202.300 L341.500,193.300 L346,202.300 L341,211.300 Z" fill="#b2efd3"/>
</g>

<g filter="url(#soft3)" stroke="#1a1a1a" stroke-width="0.12">
<text transform="translate(371.81,78.7) scale(1.320,1)">-</text>
<text transform="translate(385.46,78.7) scale(1.075,1)">запыленный</text>
<text transform="translate(515.88,78.7) scale(1.086,1)">воздух</text>
<text transform="translate(371.81,131.5) scale(1.320,1)">-</text>
<text transform="translate(385.03,131.5) scale(1.146,1)">смесь</text>
<text transform="translate(454.51,131.5) scale(1.062,1)">воздуха,</text>
<text transform="translate(384.98,156.6) scale(1.159,1)">воды</text>
<text transform="translate(443.58,156.6) scale(1.226,1)">и</text>
<text transform="translate(461.95,156.6) scale(1.033,1)">пыли</text>
<text transform="translate(371.81,208.5) scale(1.320,1)">-</text>
<text transform="translate(385.47,208.5) scale(1.091,1)">очищенный</text>
<text transform="translate(507.88,208.5) scale(1.086,1)">воздух</text>
<text transform="translate(385.70,260.3) scale(1.144,1)">водяная</text>
<text transform="translate(474.89,260.3) scale(1.071,1)">стена</text>
<text transform="translate(385.43,312) scale(1.120,1)">водный</text>
<text transform="translate(386.51,338) scale(1.064,1)">пылеуловитель</text>
</g>
</svg>
</body></html>
